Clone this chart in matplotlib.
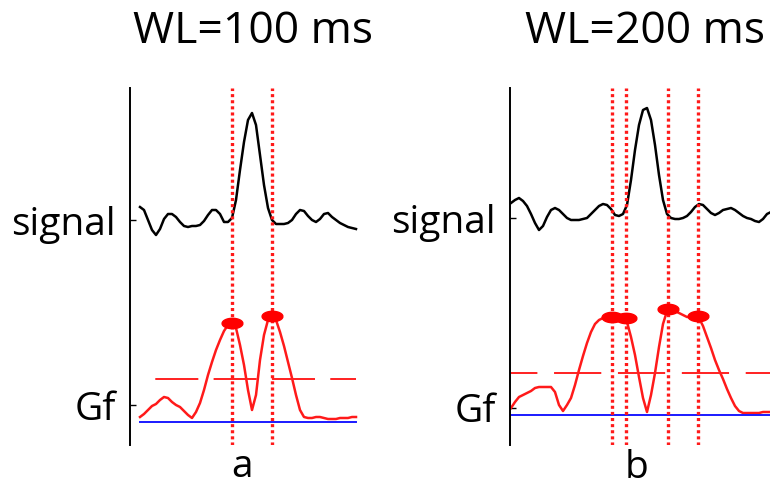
import numpy as np
import matplotlib.pyplot as plt

plt.rcParams['font.family'] = ['Open Sans', 'DejaVu Sans']
plt.rcParams['lines.scale_dashes'] = False

W, H = 770, 488

# window length 100 ms: raw signal and its Gf detection function (arbitrary units)
signal_a = [13, 10, 0, -10, -15, -9, 1, 6, 6, 3, -2, -6, -7, -6, -6, -5, -1, 5, 10, 10,
            6, -2, -2, 2, 20, 50, 78, 100, 107, 95, 65, 35, 12, 0, -4, -4, -4, -3, 0, 6,
            10, 9, 4, 0, -2, 1, 6, 7, 3, 0, -3, -5, -7, -8, -9]
gf_a = [5, 8, 12, 16, 18, 22, 25, 24, 20, 17, 15, 11, 7, 4, 10, 19, 32, 47, 60, 72,
        82, 91, 97, 99, 94, 77, 57, 32, 12, 27, 62, 87, 102, 106, 102, 90, 76, 60, 44, 27,
        12, 5, 4, 4, 5, 5, 4, 3, 3, 3, 4, 4, 4, 5, 5]
threshold_a = 43
bounds_a = [23, 33]
peaks_a = [99, 106]

# window length 200 ms
signal_b = [12, 15, 17, 14, 9, 1, -8, -15, -11, -2, 5, 7, 5, 1, -3, -5, -5, -5, -4, -3,
            1, 5, 9, 11, 10, 6, 0, -1, 1, 10, 35, 65, 90, 105, 107, 95, 70, 40, 15, 1,
            -3, -4, -4, -3, -1, 3, 8, 11, 10, 6, 2, 0, 2, 5, 6, 7, 5, 2, -1, -3,
            -4, -6, -7, -4, 1, 3]
gf_b = [7, 13, 18, 20, 22, 24, 27, 28, 28, 28, 28, 23, 10, 4, 10, 17, 30, 45, 59, 72,
        83, 91, 95, 97, 97, 97, 97, 97, 97, 93, 78, 60, 38, 17, 3, 20, 42, 68, 91, 104,
        105, 104, 102, 100, 98, 98, 98, 97, 89, 78, 67, 55, 45, 36, 26, 17, 9, 4, 2, 2,
        2, 2, 2, 3, 3, 3]
threshold_b = 42
bounds_b = [25.25, 28.75, 39.25, 46.75]
peaks_b = [98, 97, 106, 99]

titles = ['WL=100 ms', 'WL=200 ms']
letters = ['a', 'b']
ylabels = ['signal', 'Gf']

# flat elliptical blob used to mark the detected maxima
th = np.linspace(0, 2 * np.pi, 40)
blob = np.column_stack([np.cos(th), 0.5 * np.sin(th)])


def px(x, y):
    return x / W, 1 - y / H


fig = plt.figure(figsize=(W / 100, H / 100), dpi=100)

panels = [
    dict(l=130, r=365, xlim=(-2.5, 56.25), sig=signal_a, gf=gf_a, thr=threshold_a,
         bounds=bounds_a, peaks=peaks_a, soff=225, goff=23, lab=(225, 40),
         dash=(31, (31, 11))),
    dict(l=510, r=770, xlim=(-0.25, 64.75), sig=signal_b, gf=gf_b, thr=threshold_b,
         bounds=bounds_b, peaks=peaks_b, soff=230, goff=30, lab=(227, 37),
         dash=(15, (34, 12))),
]

for p in panels:
    x0, y0 = px(p['l'], 445)
    x1, y1 = px(p['r'], 88)
    ax = fig.add_axes([x0, y0, x1 - x0, y1 - y0])
    ax.set_xlim(*p['xlim'])
    ax.set_ylim(0, 357)

    k = np.arange(len(p['sig']))
    ax.plot(k, np.array(p['sig']) + p['soff'], color='black', lw=1.8)
    ax.plot(k, np.array(p['gf']) + p['goff'], color='#ff1a1a', lw=1.8)
    # zero level of Gf and the detection threshold
    ax.plot([0, k[-1]], [p['goff']] * 2, color='#1a1aff', lw=1.4)
    ax.plot([0, k[-1]], [p['thr'] + p['goff']] * 2, color='#ff2020', lw=1.4,
            linestyle=p['dash'])
    for b in p['bounds']:
        ax.axvline(b, color='#ff1a1a', lw=2.4, linestyle=(0, (2.2, 2.2)))
    ax.plot(p['bounds'], np.array(p['peaks']) + p['goff'], linestyle='none',
            marker=blob, markersize=15, color='#ff0000')

    for s in ['top', 'right', 'bottom']:
        ax.spines[s].set_visible(False)
    ax.spines['left'].set_linewidth(1.4)
    ax.set_xticks([])
    ax.set_yticks(list(p['lab']))
    ax.set_yticklabels(ylabels, fontsize=28)
    ax.tick_params(axis='y', direction='in', length=4, width=1, pad=10)

fig.text(*px(253, 32), titles[0], fontsize=32, ha='center', va='center')
fig.text(*px(645, 32), titles[1], fontsize=32, ha='center', va='center')
fig.text(*px(242, 467), letters[0], fontsize=28, ha='center', va='center')
fig.text(*px(636, 468), letters[1], fontsize=28, ha='center', va='center')

fig.savefig('out.png', dpi=100)
